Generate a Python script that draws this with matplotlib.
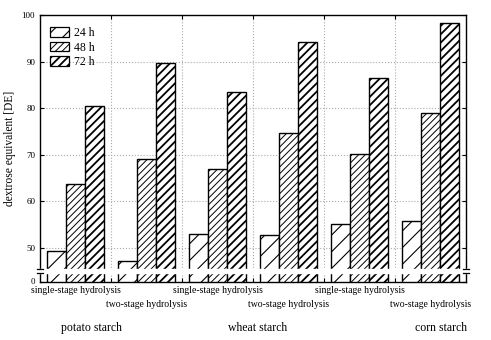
import matplotlib
matplotlib.use("Agg")
import matplotlib.pyplot as plt
import numpy as np

plt.rcParams['font.family'] = ['Liberation Serif', 'DejaVu Serif']

# dextrose equivalent [DE] per hydrolysis time
groups = ["single-stage hydrolysis", "two-stage hydrolysis"] * 3
starches = ["potato starch", "wheat starch", "corn starch"]
times = ["24 h", "48 h", "72 h"]
de_24h = [49.4, 47.3, 53.0, 52.7, 55.2, 55.7]
de_48h = [63.8, 69.2, 67.0, 74.7, 70.2, 79.0]
de_72h = [80.4, 89.7, 83.5, 94.1, 86.5, 98.2]

y_bottom = 42.8
yticks = [y_bottom, 50, 60, 70, 80, 90, 100]
ytick_labels = ["0", "50", "60", "70", "80", "90", "100"]

fig = plt.figure(figsize=(4.91, 3.40), dpi=100)
ax = fig.add_axes([40 / 491, 1 - 281.5 / 340, 426 / 491, 266.5 / 340])

x = np.arange(len(groups))
w = 0.268
styles = [("//", 0.8), ("/////", 0.7), ("////", 1.3)]
for i, (vals, lab) in enumerate(zip([de_24h, de_48h, de_72h], times)):
    hatch, hlw = styles[i]
    bars = ax.bar(x + (i - 1) * w, np.array(vals) - y_bottom, bottom=y_bottom,
                  width=w, color="white", edgecolor="black", linewidth=1.0,
                  hatch=hatch, label=lab, zorder=3)
    for b in bars:
        b.set_hatch_linewidth(hlw)

ax.set_xlim(-0.5, len(groups) - 0.5)
ax.set_ylim(y_bottom, 100)
ax.set_yticks(yticks)
ax.set_yticklabels(ytick_labels, fontsize=6.5)
ax.set_xticks(np.arange(len(groups) - 1) + 0.5)
ax.set_xticklabels([])
ax.tick_params(direction="in", length=3, top=True, right=True, width=0.8)
for s in ax.spines.values():
    s.set_linewidth(1.0)

ax.yaxis.grid(True, linestyle=":", color="#aaaaaa", linewidth=0.8, zorder=0)
ax.xaxis.grid(True, linestyle=":", color="#aaaaaa", linewidth=0.8, zorder=0)
# no grid line at the bottom tick
ax.get_ygridlines()[0].set_visible(False)

# axis break band across bars and both spines
ax.axhspan(44.7, 45.4, xmin=-0.01, xmax=1.01, color="white", zorder=5, clip_on=False)
for xa in (0, 1):
    for yb in (44.7, 45.4):
        ax.plot([xa - 0.006, xa + 0.006], [yb, yb], color="black", linewidth=0.9,
                transform=ax.get_yaxis_transform(), clip_on=False, zorder=6)

ax.set_ylabel("dextrose equivalent [DE]", fontsize=8.3, labelpad=4)

# group labels in two rows, starch names below
trans = ax.get_xaxis_transform()
for xi, g in zip(x, groups):
    yrow = -0.035 if g.startswith("single") else -0.085
    ax.text(xi, yrow, g, transform=trans, ha="center", va="center", fontsize=7)
starch_x = [0.22, 2.57, 5.15]
for xs, s in zip(starch_x, starches):
    ax.text(xs, -0.175, s, transform=trans, ha="center", va="center", fontsize=8.5)

leg = ax.legend(loc="upper left", fontsize=8.5, frameon=False, handlelength=1.6,
                handleheight=0.85, handletextpad=0.4, labelspacing=0.22,
                borderpad=0, borderaxespad=0,
                bbox_to_anchor=(10 / 426, (281.5 - 27) / 266.5))
for p, (hatch, hlw) in zip(leg.get_patches(), styles):
    p.set_linewidth(0.9)
    p.set_hatch_linewidth(hlw)

fig.savefig("out.png", dpi=100)
